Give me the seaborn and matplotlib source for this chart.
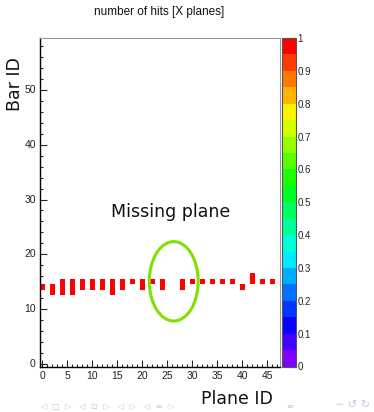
import numpy as np
import pandas as pd
import matplotlib
matplotlib.use('Agg')
import matplotlib.pyplot as plt
import seaborn as sns
from matplotlib.colors import ListedColormap, hsv_to_rgb
from matplotlib.patches import Ellipse

# hits per X plane (bins centred on integer IDs)
planes = [0, 2, 4, 6, 8, 10, 12, 14, 16, 18, 20, 22, 24, 28, 30, 32, 34, 36, 38, 40, 42, 44, 46]
bar_first = [14, 13, 13, 13, 14, 14, 14, 13, 14, 15, 14, 15, 14, 14, 15, 15, 15, 15, 15, 14, 15, 15, 15]
bar_last = [14, 14, 15, 15, 15, 15, 15, 15, 15, 15, 15, 15, 15, 15, 15, 15, 15, 15, 15, 14, 16, 15, 15]
hit_value = 1.0
n_planes = 48
n_bars = 60

x_ticks = [0, 5, 10, 15, 20, 25, 30, 35, 40, 45]
y_ticks = [0, 10, 20, 30, 40, 50]
cbar_ticks = [0, 0.1, 0.2, 0.3, 0.4, 0.5, 0.6, 0.7, 0.8, 0.9, 1.0]
cbar_labels = ['0', '0.1', '0.2', '0.3', '0.4', '0.5', '0.6', '0.7', '0.8', '0.9', '1']

# fill the 2D histogram
grid = np.full((n_bars, n_planes), np.nan)
for p, a, b in zip(planes, bar_first, bar_last):
    grid[a:b + 1, p] = hit_value
df = pd.DataFrame(grid, index=range(n_bars), columns=range(n_planes))

# ROOT-like rainbow palette, 20 levels
hues = np.linspace(0.75, 0.0, 20)
palette = [hsv_to_rgb((h, 1.0, 1.0)) for h in hues]
cmap = ListedColormap(palette)

sns.set_style('white')
plt.rcParams['font.family'] = ['DejaVu Sans']
num_font = 'Liberation Sans'

fig = plt.figure(figsize=(3.74, 4.12), dpi=100)
W, H = 374, 412
ax = fig.add_axes([40 / W, 1 - 366.5 / H, 239.5 / W, 328.5 / H])
cax = fig.add_axes([282 / W, 1 - 366.5 / H, 14 / W, 328.5 / H])

sns.heatmap(df, ax=ax, cbar_ax=cax, cmap=cmap, vmin=0, vmax=1, linewidths=0)
ax.set_ylim(0, n_bars)
ax.set_xlim(0, n_planes)

for side, s in ax.spines.items():
    s.set_visible(True)
    if side in ('left', 'bottom'):
        s.set_color('black')
        s.set_linewidth(1.0)
    else:
        s.set_color('#999999')
        s.set_linewidth(0.8)

ax.set_xticks([t + 0.5 for t in x_ticks])
ax.set_xticklabels([str(t) for t in x_ticks], rotation=0, fontfamily=num_font, fontsize=7.5, color='#222222')
ax.set_xticks(np.arange(n_planes) + 0.5, minor=True)
ax.set_yticks([t + 0.5 for t in y_ticks])
ax.set_yticklabels([str(t) for t in y_ticks], rotation=0, fontfamily=num_font, fontsize=7.5, color='#222222')
ax.set_yticks(np.arange(0, n_bars, 2) + 0.5, minor=True)
ax.tick_params(axis='both', which='major', direction='in', length=5, width=0.8, pad=3,
               bottom=True, left=True)
ax.tick_params(axis='both', which='minor', direction='in', length=2.5, width=0.8,
               bottom=True, left=True)
ax.set_xlabel('')
ax.set_ylabel('')

cb = ax.collections[0].colorbar
cb.set_ticks(cbar_ticks)
cb.set_ticklabels(cbar_labels)
cb.outline.set_edgecolor('#555555')
cb.outline.set_linewidth(0.8)
cax.tick_params(direction='in', length=4, width=0.8, labelsize=7, pad=1, colors='#222222')
for lab in cax.get_yticklabels():
    lab.set_fontfamily(num_font)

# annotation: missing plane
ax.add_patch(Ellipse((26.8, 15.56), 9.8, 14.5, fill=False, edgecolor='#80e000', linewidth=2.2))
ax.text(26.25, 28.2, 'Missing plane', ha='center', va='center', fontsize=12.5, color='#111111')

fig.text(159 / W, 1 - 12 / H, 'number of hits [X planes]', ha='center', va='center',
         fontsize=8.5, fontfamily=num_font, color='#111111')
fig.text(15 / W, 1 - 84 / H, 'Bar ID', rotation=90, ha='center', va='center', fontsize=12.5, color='#111111')
fig.text(236.5 / W, 1 - 399 / H, 'Plane ID', ha='center', va='center', fontsize=12.5, color='#111111')

# faint beamer navigation symbols
fig.text(40 / W, 1 - 407 / H, '◁  □  ▷   ◁  ⊡  ▷   ◁  ▷   ◁  ≡  ▷',
         ha='left', va='center', fontsize=6, color='#c8c8e4')
fig.text(286 / W, 1 - 407 / H, '≡', ha='left', va='center', fontsize=6, color='#c8c8e4')
fig.text(335 / W, 1 - 405 / H, '∽ ↺ ↻', ha='left', va='center', fontsize=8, color='#c8c8e4')

fig.savefig('out.png', dpi=100)
